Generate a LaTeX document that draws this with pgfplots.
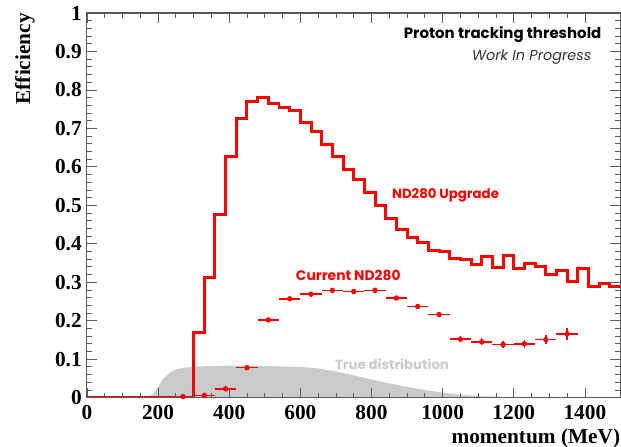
\documentclass[border=0pt]{standalone}
\usepackage{fontspec}
\setmainfont{Liberation Serif}
\newfontfamily\gothic{Poppins}
\usepackage{pgfplots}
\pgfplotsset{compat=1.18}

\definecolor{rootred}{RGB}{255,0,0}
\definecolor{truegray}{RGB}{202,202,202}
\definecolor{framegray}{RGB}{90,90,90}

% ND280 Upgrade histogram, 30 MeV bins (lower edge, efficiency)
\pgfplotstableread{
x y
0 0
30 0
60 0
90 0
120 0
150 0
180 0
210 0
240 0
270 0
300 0.169
330 0.312
360 0.475
390 0.626
420 0.726
450 0.770
480 0.780
510 0.765
540 0.755
570 0.746
600 0.715
630 0.692
660 0.658
690 0.627
720 0.594
750 0.566
780 0.533
810 0.500
840 0.465
870 0.438
900 0.417
930 0.403
960 0.383
990 0.381
1020 0.362
1050 0.358
1080 0.347
1110 0.368
1140 0.338
1170 0.369
1200 0.335
1230 0.350
1260 0.340
1290 0.319
1320 0.330
1350 0.302
1380 0.335
1410 0.288
1440 0.296
1470 0.290
1500 0.290
}\upgrade

% Current ND280 points (bin centre, efficiency, errors)
\pgfplotstableread{
x y ex ey
270 0.003 30 0.003
330 0.006 30 0.003
390 0.023 30 0.004
450 0.078 30 0.005
510 0.202 30 0.006
570 0.257 30 0.006
630 0.269 30 0.006
690 0.279 30 0.006
750 0.276 30 0.006
810 0.279 30 0.006
870 0.259 30 0.006
930 0.237 30 0.007
990 0.216 30 0.007
1050 0.152 30 0.008
1110 0.145 30 0.009
1170 0.138 30 0.010
1230 0.140 30 0.011
1290 0.151 30 0.012
1350 0.166 30 0.016
}\current

% true momentum distribution (arbitrary scale)
\pgfplotstableread{
x y
165 0
185 0.008
200 0.028
215 0.050
235 0.066
255 0.075
300 0.081
400 0.083
500 0.082
600 0.080
650 0.076
700 0.068
750 0.058
800 0.047
850 0.037
900 0.028
950 0.020
1000 0.013
1050 0.008
1100 0.004
1200 0.001
1250 0
}\truedist

\begin{document}
\begin{tikzpicture}
\begin{axis}[
  name=ax,
  scale only axis, width=400.5pt, height=288.75pt,
  xmin=0, xmax=1500, ymin=0, ymax=1,
  xtick={0,200,400,600,800,1000,1200,1400},
  xticklabels={0,200,400,600,800,1000,1200,1400},
  ytick={0,0.1,0.2,0.3,0.4,0.5,0.6,0.7,0.8,0.9,1},
  yticklabels={0,0.1,0.2,0.3,0.4,0.5,0.6,0.7,0.8,0.9,1},
  minor x tick num=3, minor y tick num=4,
  tick align=inside,
  major tick length=7.5pt, minor tick length=3.75pt,
  every tick/.style={framegray, line width=0.6pt},
  axis line style={framegray, line width=0.8pt},
  axis on top,
  tick label style={font=\fontsize{16}{16}\selectfont\bfseries, inner sep=0pt},
  /pgf/number format/assume math mode=true,
  yticklabel style={xshift=-3.75pt},
  xticklabel style={yshift=-5.25pt},
  xlabel={momentum (MeV)},
  ylabel={Efficiency},
  label style={font=\fontsize{16}{16}\selectfont\bfseries, inner sep=0pt},
  xlabel style={at={(rel axis cs:1,0)}, anchor=base east, yshift=-34.5pt},
  ylabel style={at={(rel axis cs:-0.135,1)}, anchor=north east},
]
\addplot[fill=truegray, draw=none] table {\truedist} \closedcycle;

\addplot[rootred, line width=2.25pt, const plot mark left] table {\upgrade};

\addplot[rootred, only marks, mark=*, mark size=1.8pt,
  mark options={fill=rootred, draw=rootred},
  error bars/.cd, x dir=both, x explicit, y dir=both, y explicit,
  error mark=none, error bar style={color=rootred, line width=1.1pt}]
  table[x=x, y=y, x error=ex, y error=ey] {\current};

\node[anchor=west, inner sep=0pt, text=rootred, font=\gothic\bfseries\fontsize{10}{10}\selectfont]
  at (axis cs:857,0.527) {ND280 Upgrade};
\node[anchor=west, inner sep=0pt, text=rootred, font=\gothic\bfseries\fontsize{10.4}{10.4}\selectfont]
  at (axis cs:587,0.319) {Current ND280};
\node[anchor=west, inner sep=0pt, text=truegray, font=\gothic\bfseries\fontsize{10}{10}\selectfont]
  at (axis cs:697,0.088) {True distribution};
\node[anchor=east, inner sep=0pt, text=black, font=\gothic\bfseries\fontsize{11.25}{11.25}\selectfont]
  at (axis cs:1447,0.943) {Proton tracking threshold};
\node[anchor=east, inner sep=0pt, text=black!80, font=\gothic\itshape\fontsize{10.8}{10.8}\selectfont]
  at (axis cs:1419,0.886) {Work In Progress};
\end{axis}
\pgfresetboundingbox
\path[use as bounding box] ([xshift=-65.25pt,yshift=-36.75pt]ax.south west) rectangle ([yshift=9.75pt,xshift=0.4pt]ax.north east);
\end{tikzpicture}
\end{document}
